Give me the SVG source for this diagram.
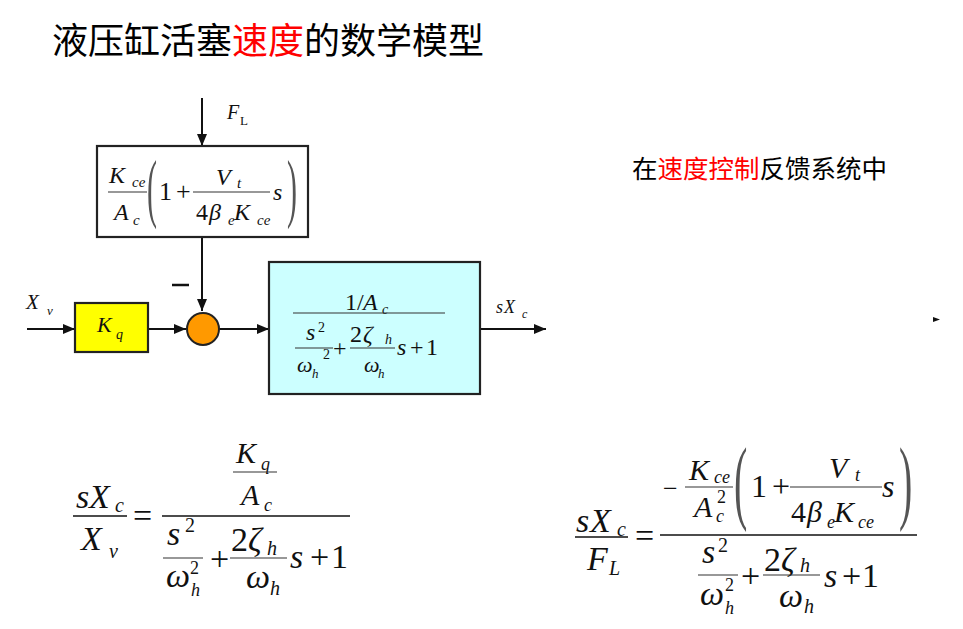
<svg xmlns="http://www.w3.org/2000/svg" width="963" height="629" viewBox="0 0 963 629">
<defs>
<style>
.cjk{font-family:"Noto Sans CJK SC","Noto Sans",sans-serif;}
.m{font-family:"Liberation Serif","Times New Roman",serif;fill:#111;}
.i{font-style:italic;}
.ln{stroke:#111;stroke-width:2;fill:none;}
.fr{stroke:#333;stroke-width:1.2;}
.fr2{stroke:#111;stroke-width:1.6;}
.box{stroke:#222;stroke-width:2.2;}
.par{font-family:"Liberation Serif",serif;fill:#555;}
.a{font-size:34px;}
.b{font-size:30px;}
.c{font-size:24px;}
.s1{font-size:20px;}
.s2{font-size:18px;}
.s3{font-size:15px;}
.s4{font-size:14px;}
</style>
<marker id="ah" viewBox="0 0 12 10" refX="12" refY="5" markerWidth="12" markerHeight="10" markerUnits="userSpaceOnUse" orient="auto">
<path d="M0,0 L12,5 L0,10 Z" fill="#111"/>
</marker>
</defs>
<rect width="963" height="629" fill="#fff"/>

<text class="cjk" x="52" y="54" font-size="36" fill="#000">液压缸活塞<tspan fill="#f00">速度</tspan>的数学模型</text>
<text class="cjk" x="632" y="178" font-size="25.5" fill="#000">在<tspan fill="#f00">速度控制</tspan>反馈系统中</text>

<g id="connectors">
<line class="ln" x1="202" y1="98" x2="202" y2="146" marker-end="url(#ah)"/>
<line class="ln" x1="202" y1="237" x2="202" y2="311" marker-end="url(#ah)"/>
<line class="ln" x1="27" y1="329" x2="75" y2="329" marker-end="url(#ah)"/>
<line class="ln" x1="148" y1="329" x2="186" y2="329" marker-end="url(#ah)"/>
<line class="ln" x1="219" y1="329" x2="269" y2="329" marker-end="url(#ah)"/>
<line class="ln" x1="480" y1="329" x2="546" y2="329" marker-end="url(#ah)"/>
<line x1="172" y1="285" x2="189" y2="285" stroke="#111" stroke-width="2.5"/>
</g>

<g id="label_FL">
<text class="m i" x="227" y="119" font-size="20">F</text>
<text class="m" x="240" y="125" font-size="13">L</text>
</g>
<g id="label_Xv">
<text class="m i" x="26" y="309" font-size="21" fill="#444">X</text>
<text class="m i" x="47" y="315" font-size="13">v</text>
</g>
<g id="label_sXc">
<text class="m i" x="496" y="313" font-size="18" fill="#333">s</text>
<text class="m i" x="504" y="313" font-size="18" fill="#333">X</text>
<text class="m i" x="522" y="318" font-size="12">c</text>
</g>

<g id="disturbance_block">
<rect class="box" x="97" y="146" width="211" height="91" fill="#fff"/>
<text class="m i c" x="109" y="183">K</text>
<text class="m i s3" x="132" y="187">ce</text>
<line class="fr" x1="108" y1="192" x2="147" y2="192"/>
<text class="m i c" x="114" y="220">A</text>
<text class="m i s3" x="133" y="225">c</text>
<text class="par" transform="translate(147,213) scale(1,2.56)" font-size="30">(</text>
<text class="m" x="159" y="200" font-size="26">1</text>
<text class="m" x="176" y="200" font-size="26">+</text>
<text class="m i c" x="216" y="185">V</text>
<text class="m i s3" x="237" y="188">t</text>
<line class="fr" x1="193" y1="192" x2="270" y2="192"/>
<text class="m c" x="196" y="220">4</text>
<text class="m i c" x="209" y="220">β</text>
<text class="m i s3" x="228" y="225">e</text>
<text class="m i c" x="234" y="220">K</text>
<text class="m i s3" x="257" y="225">ce</text>
<text class="m i c" x="273" y="200">s</text>
<text class="par" transform="translate(287,213) scale(1,2.56)" font-size="30">)</text>
</g>

<g id="Kq_block">
<rect class="box" x="75" y="303" width="73" height="49" fill="#ffff00"/>
<text class="m i" x="97" y="332" font-size="22" fill="#333">K</text>
<text class="m i s4" x="116" y="339">q</text>
</g>

<g id="sum_junction">
<circle cx="203" cy="329" r="16" fill="#ff9900" stroke="#222" stroke-width="2"/>
</g>

<g id="plant_block">
<rect class="box" x="269" y="262" width="211" height="132" fill="#ccffff"/>
<text class="m c" x="345" y="310">1</text>
<text class="m c" x="357" y="310">/</text>
<text class="m i c" x="363" y="310">A</text>
<text class="m i s4" x="382" y="314">c</text>
<line class="fr" x1="293" y1="313" x2="445" y2="313"/>
<text class="m i c" x="306" y="340">s</text>
<text class="m s4" x="318" y="332">2</text>
<line class="fr" x1="295" y1="348" x2="333" y2="348"/>
<text class="m i" x="297" y="372" font-size="22">ω</text>
<text class="m i" x="312" y="378" font-size="13">h</text>
<text class="m s4" x="323" y="359">2</text>
<text class="m c" x="333" y="356">+</text>
<text class="m c" x="350" y="342">2</text>
<text class="m i c" x="363" y="342">ζ</text>
<text class="m i s4" x="385" y="344">h</text>
<line class="fr" x1="350" y1="348" x2="395" y2="348"/>
<text class="m i" x="364" y="372" font-size="22">ω</text>
<text class="m i" x="378" y="378" font-size="13">h</text>
<text class="m i c" x="397" y="355">s</text>
<text class="m c" x="410" y="355">+</text>
<text class="m c" x="426" y="355">1</text>
</g>

<g id="formula_left">
<text class="m i a" x="76" y="508">s</text>
<text class="m i a" x="89" y="508">X</text>
<text class="m i s1" x="115" y="512">c</text>
<line class="fr2" x1="73" y1="516" x2="127" y2="516"/>
<text class="m i a" x="81" y="550">X</text>
<text class="m i s1" x="109" y="558">v</text>
<text class="m a" x="133" y="527">=</text>
<line class="fr2" x1="162" y1="516" x2="350" y2="516"/>
<text class="m i b" x="236" y="463">K</text>
<text class="m i s2" x="261" y="470">q</text>
<line class="fr" x1="233" y1="472" x2="277" y2="472"/>
<text class="m i b" x="241" y="505">A</text>
<text class="m i s2" x="264" y="511">c</text>
<text class="m i a" x="167" y="545">s</text>
<text class="m s1" x="185" y="532">2</text>
<line class="fr" x1="163" y1="558" x2="203" y2="558"/>
<text class="m i a" x="166" y="587">ω</text>
<text class="m s2" x="190" y="574">2</text>
<text class="m i s2" x="191" y="596">h</text>
<text class="m a" x="210" y="570">+</text>
<text class="m a" x="231" y="551">2</text>
<text class="m i a" x="248" y="551">ζ</text>
<text class="m i s1" x="267" y="555">h</text>
<line class="fr" x1="230" y1="558" x2="287" y2="558"/>
<text class="m i a" x="246" y="588">ω</text>
<text class="m i s1" x="270" y="595">h</text>
<text class="m i a" x="290" y="568">s</text>
<text class="m a" x="310" y="568">+</text>
<text class="m a" x="331" y="568">1</text>
</g>

<g id="formula_right">
<text class="m i a" x="576" y="532">s</text>
<text class="m i a" x="590" y="532">X</text>
<text class="m i s1" x="617" y="536">c</text>
<line class="fr2" x1="575" y1="537" x2="628" y2="537"/>
<text class="m i a" x="587" y="570">F</text>
<text class="m i s1" x="609" y="575">L</text>
<text class="m a" x="635" y="547">=</text>
<line class="fr2" x1="660" y1="535" x2="917" y2="535"/>
<text class="m" x="663" y="497" font-size="26">−</text>
<text class="m i b" x="689" y="480">K</text>
<text class="m i s2" x="714" y="483">ce</text>
<line class="fr" x1="685" y1="487" x2="733" y2="487"/>
<text class="m i b" x="694" y="517">A</text>
<text class="m s2" x="717" y="503">2</text>
<text class="m i s2" x="716" y="522">c</text>
<text class="par" transform="translate(734,512) scale(1,2.35)" font-size="40" fill="#111">(</text>
<text class="m" x="751" y="497" font-size="32">1</text>
<text class="m" x="772" y="497" font-size="32">+</text>
<text class="m i b" x="829" y="478">V</text>
<text class="m i s2" x="855" y="481">t</text>
<line class="fr" x1="790" y1="487" x2="882" y2="487"/>
<text class="m b" x="791" y="522">4</text>
<text class="m i b" x="807" y="522">β</text>
<text class="m i s2" x="827" y="528">e</text>
<text class="m i b" x="834" y="522">K</text>
<text class="m i s2" x="858" y="528">ce</text>
<text class="m i" x="882" y="497" font-size="32">s</text>
<text class="par" transform="translate(899,512) scale(1,2.35)" font-size="40" fill="#111">)</text>
<text class="m i a" x="702" y="563">s</text>
<text class="m s1" x="718" y="552">2</text>
<line class="fr" x1="698" y1="575" x2="738" y2="575"/>
<text class="m i a" x="700" y="605">ω</text>
<text class="m s2" x="725" y="591">2</text>
<text class="m i s2" x="725" y="614">h</text>
<text class="m a" x="741" y="587">+</text>
<text class="m a" x="764" y="571">2</text>
<text class="m i a" x="781" y="571">ζ</text>
<text class="m i s1" x="800" y="572">h</text>
<line class="fr" x1="763" y1="575" x2="820" y2="575"/>
<text class="m i a" x="779" y="607">ω</text>
<text class="m i s1" x="804" y="613">h</text>
<text class="m i a" x="824" y="587">s</text>
<text class="m a" x="842" y="587">+</text>
<text class="m a" x="862" y="587">1</text>
</g>

<polygon points="933,317 940,319.5 933,322" fill="#111"/>
</svg>
